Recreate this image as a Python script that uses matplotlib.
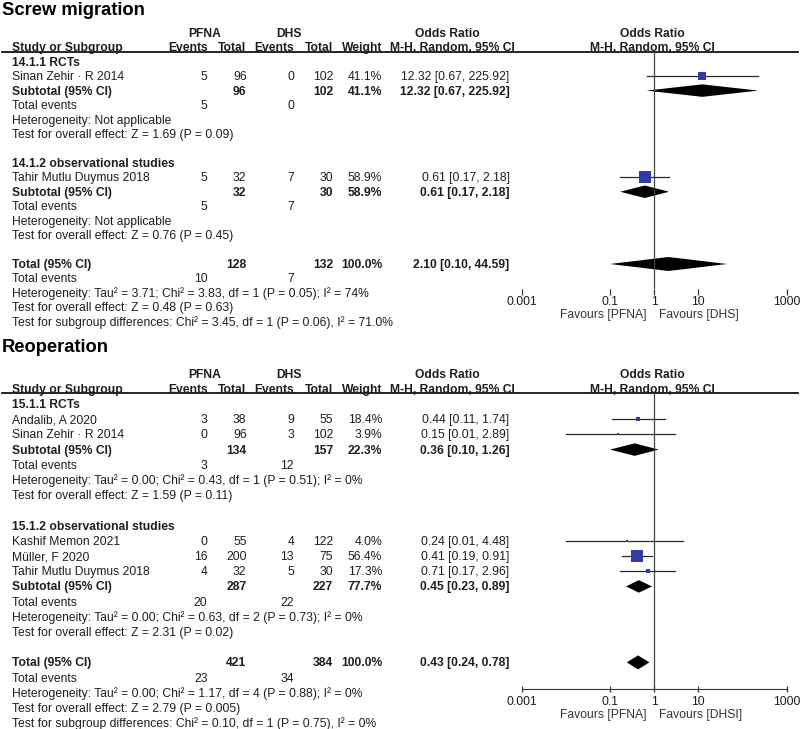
import numpy as np
import matplotlib.pyplot as plt

plt.rcParams['font.family'] = ['Liberation Sans', 'DejaVu Sans']

# ---------------- data: Screw migration ----------------
sm_groups = ["14.1.1 RCTs", "14.1.2 observational studies"]
sm_study = ["Sinan Zehir · R 2014", "Tahir Mutlu Duymus 2018"]
sm_study_grp = [0, 1]
sm_ev1 = [5, 5]
sm_n1 = [96, 32]
sm_ev2 = [0, 7]
sm_n2 = [102, 30]
sm_w = [41.1, 58.9]
sm_or = [12.32, 0.61]
sm_lo = [0.67, 0.17]
sm_hi = [225.92, 2.18]
sm_sub_n1 = [96, 32]
sm_sub_n2 = [102, 30]
sm_sub_w = [41.1, 58.9]
sm_sub_or = [12.32, 0.61]
sm_sub_lo = [0.67, 0.17]
sm_sub_hi = [225.92, 2.18]
sm_sub_ev1 = [5, 5]
sm_sub_ev2 = [0, 7]
sm_sub_het = ["Heterogeneity: Not applicable", "Heterogeneity: Not applicable"]
sm_sub_test = ["Test for overall effect: Z = 1.69 (P = 0.09)",
               "Test for overall effect: Z = 0.76 (P = 0.45)"]
sm_tot = [128, 132, 100.0, 2.10, 0.10, 44.59, 10, 7]
sm_tot_text = ["Heterogeneity: Tau² = 3.71; Chi² = 3.83, df = 1 (P = 0.05); I² = 74%",
               "Test for overall effect: Z = 0.48 (P = 0.63)",
               "Test for subgroup differences: Chi² = 3.45, df = 1 (P = 0.06), I² = 71.0%"]

# ---------------- data: Reoperation ----------------
re_groups = ["15.1.1 RCTs", "15.1.2 observational studies"]
re_study = ["Andalib, A 2020", "Sinan Zehir · R 2014", "Kashif Memon 2021",
            "Müller, F 2020", "Tahir Mutlu Duymus 2018"]
re_study_grp = [0, 0, 1, 1, 1]
re_ev1 = [3, 0, 0, 16, 4]
re_n1 = [38, 96, 55, 200, 32]
re_ev2 = [9, 3, 4, 13, 5]
re_n2 = [55, 102, 122, 75, 30]
re_w = [18.4, 3.9, 4.0, 56.4, 17.3]
re_or = [0.44, 0.15, 0.24, 0.41, 0.71]
re_lo = [0.11, 0.01, 0.01, 0.19, 0.17]
re_hi = [1.74, 2.89, 4.48, 0.91, 2.96]
re_sub_n1 = [134, 287]
re_sub_n2 = [157, 227]
re_sub_w = [22.3, 77.7]
re_sub_or = [0.36, 0.45]
re_sub_lo = [0.10, 0.23]
re_sub_hi = [1.26, 0.89]
re_sub_ev1 = [3, 20]
re_sub_ev2 = [12, 22]
re_sub_het = ["Heterogeneity: Tau² = 0.00; Chi² = 0.43, df = 1 (P = 0.51); I² = 0%",
              "Heterogeneity: Tau² = 0.00; Chi² = 0.63, df = 2 (P = 0.73); I² = 0%"]
re_sub_test = ["Test for overall effect: Z = 1.59 (P = 0.11)",
               "Test for overall effect: Z = 2.31 (P = 0.02)"]
re_tot = [421, 384, 100.0, 0.43, 0.24, 0.78, 23, 34]
re_tot_text = ["Heterogeneity: Tau² = 0.00; Chi² = 1.17, df = 4 (P = 0.88); I² = 0%",
               "Test for overall effect: Z = 2.79 (P = 0.005)",
               "Test for subgroup differences: Chi² = 0.10, df = 1 (P = 0.75), I² = 0%"]

tick_vals = [0.001, 0.1, 1, 10, 1000]
tick_labels = ["0.001", "0.1", "1", "10", "1000"]

W, H = 800, 729
FS = 8.7
TXT = '#1e1e1e'
BLUE = '#2f3ca3'
X0, X1 = 521.7, 786.7   # pixel span of forest axis

fig = plt.figure(figsize=(8, 7.29), dpi=100)
tax = fig.add_axes([0, 0, 1, 1])
tax.set_xlim(0, W)
tax.set_ylim(H, 0)
tax.axis('off')


def put(x, y, s, ha='left', bold=False, size=FS, color=TXT):
    tax.text(x, y + 4, s, ha=ha, va='baseline', fontsize=size, color=color,
             fontweight='bold' if bold else 'normal')


def fmt_or(o, l, h):
    return f"{o:.2f} [{l:.2f}, {h:.2f}]"


def panel(title, title_y, top, dy, line_y, axis_y, fav_y, groups, study, sgrp, ev1, n1,
          ev2, n2, w, orr, lo, hi, sn1, sn2, sw, sor, slo, shi, sev1, sev2, shet, stest,
          tot, tot_text, fav_right, show_spine):
    # title and headers
    tax.text(1.5, title_y, title, fontsize=13.2, fontweight='bold', color='black',
             va='baseline', ha='left')
    hy = line_y - 19
    put(205, hy, "PFNA", ha='center', bold=True)
    put(289, hy, "DHS", ha='center', bold=True)
    put(447, hy, "Odds Ratio", ha='center', bold=True)
    put(652, hy, "Odds Ratio", ha='center', bold=True)
    sy = line_y - 4.5
    put(11.5, sy, "Study or Subgroup", bold=True)
    put(207.5, sy, "Events", ha='right', bold=True)
    put(246.5, sy, "Total", ha='right', bold=True)
    put(294, sy, "Events", ha='right', bold=True)
    put(333, sy, "Total", ha='right', bold=True)
    put(382, sy, "Weight", ha='right', bold=True)
    put(452, sy, "M-H, Random, 95% CI", ha='center', bold=True)
    put(652, sy, "M-H, Random, 95% CI", ha='center', bold=True)
    tax.plot([2, 798], [line_y, line_y], color='black', lw=1.2)

    # forest axes, y in figure pixels
    fax = fig.add_axes([X0 / W, 1 - axis_y / H, (X1 - X0) / W, (axis_y - line_y) / H])
    fax.set_xscale('log')
    fax.set_xlim(0.001, 1000)
    fax.set_ylim(axis_y, line_y)
    fax.patch.set_alpha(0)
    for s in ['top', 'left', 'right']:
        fax.spines[s].set_visible(False)
    fax.spines['bottom'].set_visible(show_spine)
    fax.spines['bottom'].set_color('#333333')
    fax.set_yticks([])
    fax.xaxis.set_minor_locator(plt.NullLocator())
    fax.set_xticks(tick_vals)
    fax.set_xticklabels(tick_labels)
    if show_spine:
        fax.tick_params(axis='x', direction='inout', length=4.5, width=0.9, pad=2.6,
                        labelsize=FS, colors='#333333', labelcolor=TXT)
    else:
        fax.tick_params(axis='x', direction='out', length=4.3, width=0.9, pad=1,
                        labelsize=FS, colors='#333333', labelcolor=TXT)
    fax.axvline(1, color='#444444', lw=0.9)

    def diamond(y, o, l, h, ht=12.5):
        fax.fill([l, o, h, o], [y, y - ht / 2, y, y + ht / 2], color='black', lw=0)

    row = 0
    ypos = lambda r: top + r * dy
    for g, gname in enumerate(groups):
        put(11.5, ypos(row), gname, bold=True)
        row += 1
        for i in range(len(study)):
            if sgrp[i] != g:
                continue
            y = ypos(row)
            put(11.5, y, study[i])
            put(207.5, y, str(ev1[i]), ha='right')
            put(246.5, y, str(n1[i]), ha='right')
            put(294, y, str(ev2[i]), ha='right')
            put(333, y, str(n2[i]), ha='right')
            put(382, y, f"{w[i]:.1f}%", ha='right')
            put(509.5, y, fmt_or(orr[i], lo[i], hi[i]), ha='right')
            fax.plot([lo[i], hi[i]], [y, y], color='#2a2a2a', lw=0.9)
            side = 1.5 + 0.17 * w[i]
            fax.plot([orr[i]], [y], marker='s', ms=side * 0.72, color=BLUE, mec=BLUE, mew=0)
            row += 1
        y = ypos(row)
        put(11.5, y, "Subtotal (95% CI)", bold=True)
        put(246.5, y, str(sn1[g]), ha='right', bold=True)
        put(333, y, str(sn2[g]), ha='right', bold=True)
        put(382, y, f"{sw[g]:.1f}%", ha='right', bold=True)
        put(509.5, y, fmt_or(sor[g], slo[g], shi[g]), ha='right', bold=True)
        diamond(y, sor[g], slo[g], shi[g])
        row += 1
        y = ypos(row)
        put(11.5, y, "Total events")
        put(207.5, y, str(sev1[g]), ha='right')
        put(294, y, str(sev2[g]), ha='right')
        row += 1
        put(11.5, ypos(row), shet[g])
        row += 1
        put(11.5, ypos(row), stest[g])
        row += 2
    y = ypos(row)
    put(11.5, y, "Total (95% CI)", bold=True)
    put(246.5, y, str(tot[0]), ha='right', bold=True)
    put(333, y, str(tot[1]), ha='right', bold=True)
    put(382, y, f"{tot[2]:.1f}%", ha='right', bold=True)
    put(509.5, y, fmt_or(tot[3], tot[4], tot[5]), ha='right', bold=True)
    diamond(y, tot[3], tot[4], tot[5], ht=14)
    row += 1
    y = ypos(row)
    put(11.5, y, "Total events")
    put(207.5, y, str(tot[6]), ha='right')
    put(294, y, str(tot[7]), ha='right')
    for s in tot_text:
        row += 1
        put(11.5, ypos(row), s)

    put(647, fav_y, "Favours [PFNA]", ha='right', color='#333333')
    put(659, fav_y, fav_right, ha='left', color='#333333')


panel("Screw migration", 15, 61.7, 14.45, 51.7, 289, 314, sm_groups, sm_study,
      sm_study_grp, sm_ev1, sm_n1, sm_ev2, sm_n2, sm_w, sm_or, sm_lo, sm_hi, sm_sub_n1,
      sm_sub_n2, sm_sub_w, sm_sub_or, sm_sub_lo, sm_sub_hi, sm_sub_ev1, sm_sub_ev2,
      sm_sub_het, sm_sub_test, sm_tot, sm_tot_text, "Favours [DHS]", False)

panel("Reoperation", 351.5, 404, 15.2, 393.3, 689.3, 714, re_groups, re_study,
      re_study_grp, re_ev1, re_n1, re_ev2, re_n2, re_w, re_or, re_lo, re_hi, re_sub_n1,
      re_sub_n2, re_sub_w, re_sub_or, re_sub_lo, re_sub_hi, re_sub_ev1, re_sub_ev2,
      re_sub_het, re_sub_test, re_tot, re_tot_text, "Favours [DHSI]", True)

fig.savefig('out.png', dpi=100)
